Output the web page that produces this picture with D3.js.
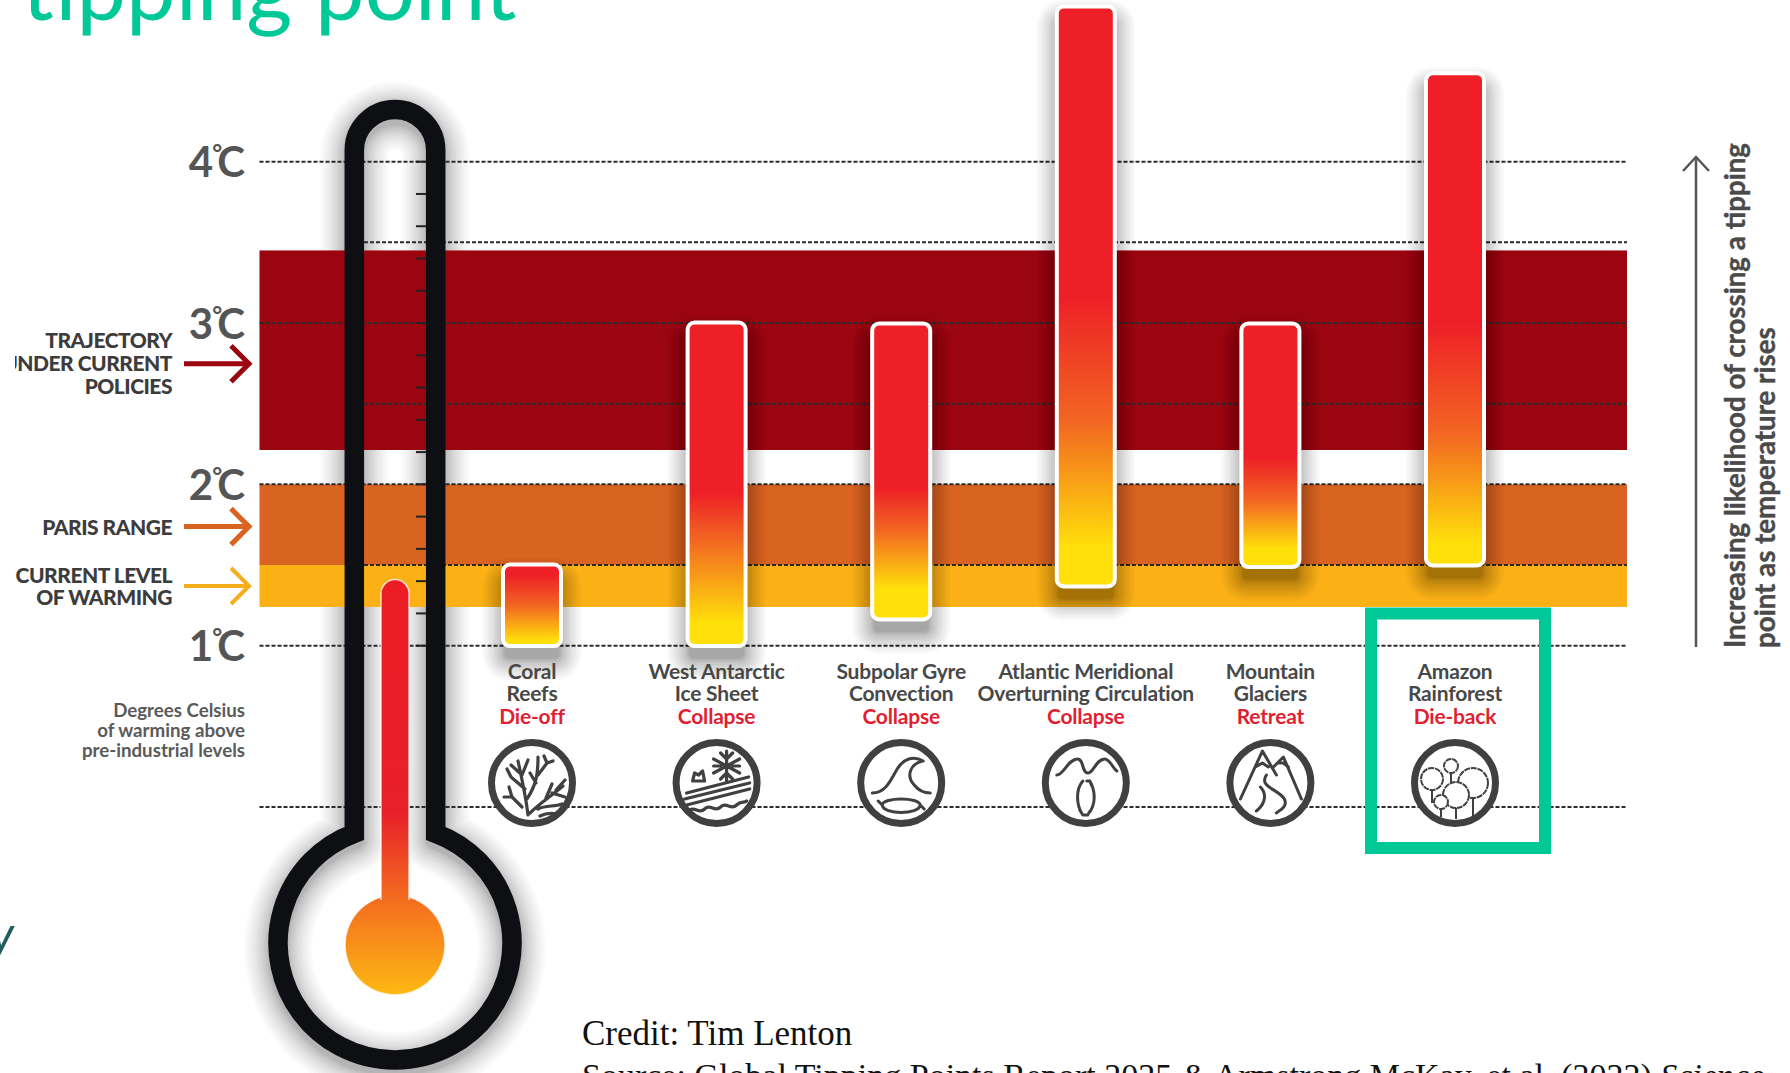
<!DOCTYPE html>
<html><head><meta charset="utf-8">
<style>html,body{margin:0;padding:0;background:#fff;overflow:hidden}svg{display:block}text{font-family:Lato,sans-serif}</style>
<script src="https://cdn.jsdelivr.net/npm/d3@7"></script></head><body>
<script>
// ---- data ----
const categories=["Coral Reefs","West Antarctic Ice Sheet","Subpolar Gyre Convection","Atlantic Meridional Overturning Circulation","Mountain Glaciers","Amazon Rainforest"];
const nameLines=[["Coral","Reefs"],["West Antarctic","Ice Sheet"],["Subpolar Gyre","Convection"],["Atlantic Meridional","Overturning Circulation"],["Mountain","Glaciers"],["Amazon","Rainforest"]];
const outcomes=["Die-off","Collapse","Collapse","Collapse","Retreat","Die-back"];
const tempLow=[0.985,0.985,1.15,1.355,1.475,1.485];
const tempHigh=[1.515,3.015,3.01,4.975,3.01,4.56];
const fadeRed=[1.44,1.95,1.98,3.17,2.17,3.0];
const fadeMid=[1.25,1.66,1.72,2.4,1.9,2.32];
const fadeYellow=[1.03,1.14,1.35,1.61,1.6,1.63];
const axisTicks=[1,2,3,4];
const fullGrid=[0,1,2,3,4];
const halfGrid=[1.5,2.5,3.5];
const thermoTicks=[1,1.2,1.4,1.6,1.8,2,2.2,2.4,2.6,2.8,3,3.2,3.4,3.6,3.8,4];
const bandNames=["Current policies","Paris range","Current level"];
const bandLow=[2.213,1.5,1.24];
const bandHigh=[3.45,2.0,1.5];
const bandColors=["#9a0510","#d96320","#fbb016"];
const mercuryTop=1.41;
const bandLabels=[{l:["TRAJECTORY","UNDER CURRENT","POLICIES"],t:2.76,c:"#9a0510",w:5},{l:["PARIS RANGE"],t:1.738,c:"#d96320",w:5},{l:["CURRENT LEVEL","OF WARMING"],t:1.37,c:"#f6ae1e",w:4}];

const W=1790,H=1073;
const y=d3.scaleLinear().domain([0,4]).range([807,161.7]);
const x=d3.scalePoint().domain(categories).range([532,1455]);
const svg=d3.select("body").append("svg").attr("width",W).attr("height",H).attr("viewBox",`0 0 ${W} ${H}`);
const defs=svg.append("defs");
defs.append("clipPath").attr("id","leftClip").append("rect").attr("x",15).attr("y",0).attr("width",400).attr("height",H);

// title fragments
svg.append("text").attr("x",22).attr("y",20).attr("font-size",88.5).attr("fill","#00c896").style("font-family","Lato").attr("font-weight",400).text("tipping point");
svg.append("text").attr("x",-10).attr("y",952).attr("font-size",50).attr("font-style","italic").attr("fill","#1f5d5f").text("y");

// thermometer outline path
const cx=395,tr=40.7,tubeTop=109.5,by=943,br=117,jy=by-Math.sqrt(br*br-tr*tr);
const p=d3.path();
p.moveTo(cx-tr,jy);p.lineTo(cx-tr,tubeTop+tr);p.arc(cx,tubeTop+tr,tr,Math.PI,0);p.lineTo(cx+tr,jy);
const a=Math.asin(tr/br);
p.arc(cx,by,br,-Math.PI/2+a,-Math.PI/2-a+2*Math.PI);p.closePath();
// soft shadow built from stacked translucent strokes, denser close to the wall
const steps=d3.range(1,17);
svg.append("g").attr("transform","translate(0,6)").selectAll("path").data(steps).join("path").attr("d",p.toString()).attr("fill","none").attr("stroke","#000").attr("stroke-opacity",.021).attr("stroke-width",k=>19.5+2*24*Math.pow(k/16,1.7)).attr("stroke-linejoin","round");

// bands
svg.append("g").selectAll("rect").data(bandNames).join("rect")
 .attr("x",259.5).attr("width",1627-259.5)
 .attr("y",(d,i)=>y(bandHigh[i])).attr("height",(d,i)=>y(bandLow[i])-y(bandHigh[i]))
 .attr("fill",(d,i)=>bandColors[i]);

// grid
const grid=svg.append("g").attr("fill","none").attr("stroke","#2b2b2b").attr("stroke-width",2).attr("stroke-dasharray","4 2");
grid.selectAll("line.f").data(fullGrid).join("line").attr("class","f").attr("x1",259.5).attr("x2",1627).attr("y1",d=>y(d)).attr("y2",d=>y(d));
grid.selectAll("line.h").data(halfGrid).join("line").attr("class","h").attr("x1",364).attr("x2",1627).attr("y1",d=>y(d)).attr("y2",d=>y(d));

// thermometer stroke above the grid
svg.append("path").attr("d",p.toString()).attr("fill","none").attr("stroke","#0d0f12").attr("stroke-width",19.5);
svg.append("g").selectAll("line").data(thermoTicks).join("line").attr("x1",416).attr("x2",426).attr("y1",d=>y(d)).attr("y2",d=>y(d)).attr("stroke","#222").attr("stroke-width",2);

// mercury
const mg=defs.append("linearGradient").attr("id","merc").attr("gradientUnits","userSpaceOnUse").attr("x1",0).attr("x2",0).attr("y1",y(mercuryTop)).attr("y2",995);
[[0,"#ec1c24"],[.56,"#e8202a"],[.78,"#f4701f"],[1,"#fdb913"]].forEach(s=>mg.append("stop").attr("offset",s[0]).attr("stop-color",s[1]));
const mp=d3.path();mp.moveTo(cx-14,900);mp.lineTo(cx-14,y(mercuryTop)+14);mp.arc(cx,y(mercuryTop)+14,14,Math.PI,0);mp.lineTo(cx+14,900);
mp.arc(cx,945,50,-Math.PI/2+Math.asin(14/50),-Math.PI/2-Math.asin(14/50)+2*Math.PI);mp.closePath();
svg.append("path").attr("d",mp.toString()).attr("fill","url(#merc)").attr("stroke","#fff").attr("stroke-opacity",.75).attr("stroke-width",1.5);

// axis
const ax=svg.append("g").attr("transform","translate(245,0)").call(d3.axisLeft(y).tickValues(axisTicks).tickSize(0).tickPadding(0).tickFormat(d=>d+"°C"));
ax.select(".domain").remove();
ax.selectAll("text").text(null).attr("font-size",42).attr("font-weight",700).attr("fill","#555").attr("dy","0.36em").attr("letter-spacing",0).style("font-family","Lato")
 .each(function(d){const t=d3.select(this);t.append("tspan").text(d);t.append("tspan").attr("font-size",24).attr("dy",-15).attr("dx",-1).text("°");t.append("tspan").attr("dy",15).attr("dx",-5).text("C");});

// left labels
const lg=svg.append("g").attr("clip-path","url(#leftClip)");
bandLabels.forEach(b=>{const yc=y(b.t)+(b.l.length==3?1.3:b.l.length==1?1:0);
 b.l.forEach((t,i)=>lg.append("text").attr("x",172).attr("y",yc+(i-(b.l.length-1)/2)*(b.l.length==3?23:22)).attr("dy","0.36em").attr("text-anchor","end").attr("font-size",21).attr("font-weight",900).attr("letter-spacing",-.5).attr("fill","#3c3c3c").text(t));
 const ay=b.l.length==2?586:y(b.t)+(b.l.length==3?2:0);
 svg.append("path").attr("d",`M184,${ay}H248M231,${ay-18}L249,${ay}L231,${ay+18}`).attr("fill","none").attr("stroke",b.c).attr("stroke-width",b.w);
});
["Degrees Celsius","of warming above","pre-industrial levels"].forEach((t,i)=>svg.append("text").attr("x",245).attr("y",710+i*20).attr("dy","0.36em").attr("text-anchor","end").attr("font-size",18.7).attr("font-weight",700).attr("fill","#5a5a5a").text(t));

// bars: shadows then bars
categories.forEach((c,i)=>{const g=defs.append("linearGradient").attr("id","bar"+i).attr("gradientUnits","userSpaceOnUse").attr("x1",0).attr("x2",0).attr("y1",y(fadeRed[i])).attr("y2",y(fadeYellow[i]));
 const m=(y(fadeMid[i])-y(fadeRed[i]))/(y(fadeYellow[i])-y(fadeRed[i]));
 g.append("stop").attr("offset",0).attr("stop-color","#ee1f27");g.append("stop").attr("offset",m).attr("stop-color","#f26522");g.append("stop").attr("offset",1).attr("stop-color","#ffe00a");});
const barRect=sel=>sel.attr("x",d=>x(d)-29).attr("width",58)
 .attr("y",(d,i)=>y(tempHigh[i])+2).attr("height",(d,i)=>y(tempLow[i])-y(tempHigh[i])-4).attr("rx",7);
const spread=k=>22*Math.pow(k/14,1.7)-4;
const barShadow=svg.append("g").selectAll("g").data(categories).join("g");
barShadow.each(function(c,i){d3.select(this).selectAll("rect").data(d3.range(1,15)).join("rect")
 .attr("x",k=>x(c)-31-spread(k)).attr("width",k=>62+2*spread(k))
 .attr("y",k=>y(tempHigh[i])+14-spread(k)).attr("height",k=>y(tempLow[i])-y(tempHigh[i])+2*spread(k))
 .attr("rx",k=>8+spread(k)).attr("fill","#000").attr("fill-opacity",.026);});
svg.append("g").selectAll("rect").data(categories).join("rect").call(barRect)
 .attr("fill",(d,i)=>`url(#bar${i})`).attr("stroke","#fff").attr("stroke-width",4);

// labels
const lab=svg.append("g").attr("text-anchor","middle");
categories.forEach((c,i)=>{
 nameLines[i].forEach((t,j)=>lab.append("text").attr("x",x(c)).attr("y",671+j*22.5).attr("dy","0.36em").attr("font-size",21).attr("font-weight",700).attr("letter-spacing",-.2).attr("fill","#484848").text(t));
 lab.append("text").attr("x",x(c)).attr("y",716.5).attr("dy","0.36em").attr("font-size",21).attr("font-weight",700).attr("letter-spacing",-.2).attr("fill","#e11f33").text(outcomes[i]);
});

// icons
const iconPaths=[
 "M-4,32C-6,15-8,5-14,-22M-7,6L-21,-6M-10,-8L-21,-18M-10,-8L-4,-23M-21,-6L-25,-14M-5,16C4,2 6,-8 6,-26M6,-8L15,-20M4,0L-2,-10M15,-20L12,-27M15,-20L21,-22M-2,30C8,20 18,14 31,3M14,15L20,1M20,10L33,14M24,7L33,-3M6,26C14,22 22,24 30,21M-10,24L-20,14M-20,14L-28,14M-20,14L-23,4M8,33C14,30 20,30 24,31",
 "M10,-32V-2M-3,-24L23,-10M-3,-10L23,-24M4,-30L10,-24L16,-30M4,-4L10,-10L16,-4M-3,-17L4,-17M16,-17L23,-17M-30,10L32,-6M-32,16L33,0M-30,22L33,6M-28,28C-22,22-18,32-12,26C-6,20-2,30 4,24C10,18 14,28 20,22C24,18 28,20 30,18M-24,-2L-22,-10L-18,-8L-14,-12L-12,-2Z",
 "M-29,10C-15,10-10,-4-4,-14C2,-24 12,-28 22,-22C10,-20 4,-8 13,2C17,7 23,10 29,10M-19,22C-18,14 18,14 19,22C18,32-18,32-19,22ZM-19,22L-23,18M19,22L23,26",
 "M-29,-8C-22,-8-18,-24-8,-24C-2,-24-4,-10 2,-10C8,-10 10,-24 19,-24C24,-24 26,-16 31,-12M-3,-2C-10,6-10,22-3,32M4,-2C10,8 10,22 3,30M-6,27L-3,32L2,32M1,-2L4,-2L6,3",
 "M-30,16L-8,-32L6,-8M3,-16L13,-26L31,16M-15,-16L-8,-20L-2,-16M8,-20L13,-20L18,-16M-4,-8C-12,4 8,6 14,16C18,24 8,28 6,30M-14,28C-4,20-4,10-10,4",
 ""];
const treeCircles=[[-4,-17,7],[-23,-4,11],[18,0,15],[1,12,13],[-14,19,7]];
const treeStems=[[-4,-10,-4,0],[-23,7,-23,20],[18,15,18,34],[1,25,1,36],[-14,26,-14,34]];
const ic=svg.append("g").selectAll("g").data(categories).join("g").attr("transform",d=>`translate(${x(d)},783)`);
ic.append("circle").attr("r",40.5).attr("fill","#fff").attr("stroke","#404040").attr("stroke-width",7);
ic.append("path").attr("d",(d,i)=>iconPaths[i]).attr("fill","none").attr("stroke","#404040").attr("stroke-width",(d,i)=>i<2?3.2:3).attr("stroke-linecap","round").attr("stroke-linejoin","round");
const tree=ic.filter((d,i)=>i==5);
tree.selectAll("circle.t").data(treeCircles).join("circle").attr("class","t").attr("cx",d=>d[0]).attr("cy",d=>d[1]).attr("r",d=>d[2]).attr("fill","#fff").attr("stroke","#404040").attr("stroke-width",2).attr("stroke-dasharray","6 .8");
tree.selectAll("line.s").data(treeStems).join("line").attr("class","s").attr("x1",d=>d[0]).attr("y1",d=>d[1]).attr("x2",d=>d[2]).attr("y2",d=>d[3]).attr("stroke","#404040").attr("stroke-width",2);

// highlight box
svg.append("rect").attr("x",1371).attr("y",613.5).attr("width",174).attr("height",234.5).attr("fill","none").attr("stroke","#00c896").attr("stroke-width",12);

// right arrow & text
svg.append("path").attr("d","M1696,647V157M1683,171L1696,157L1709,171").attr("fill","none").attr("stroke","#555").attr("stroke-width",2.5);
[["Increasing likelihood of crossing a tipping",1735],["point as temperature rises",1765]].forEach(r=>svg.append("text").attr("transform",`translate(${r[1]},648) rotate(-90)`).attr("dy","0.36em").attr("font-size",27.7).attr("font-weight",700).attr("fill","#4a4a4a").attr("stroke","#4a4a4a").attr("stroke-width",.4).text(r[0]));

// credit
const serif="'Liberation Serif',serif";
svg.append("text").attr("x",582).attr("y",1045).attr("font-size",35).attr("fill","#111").style("font-family",serif).text("Credit: Tim Lenton");
const src=svg.append("text").attr("x",582).attr("y",1087).attr("font-size",34).attr("fill","#111").style("font-family",serif);
src.append("tspan").text("Source: Global Tipping Points Report 2025 ");
src.append("tspan").attr("font-style","italic").text("&");
src.append("tspan").text(" Armstrong McKay, et al. (2022) ");
src.append("tspan").attr("font-style","italic").text("Science");
</script></body></html>
